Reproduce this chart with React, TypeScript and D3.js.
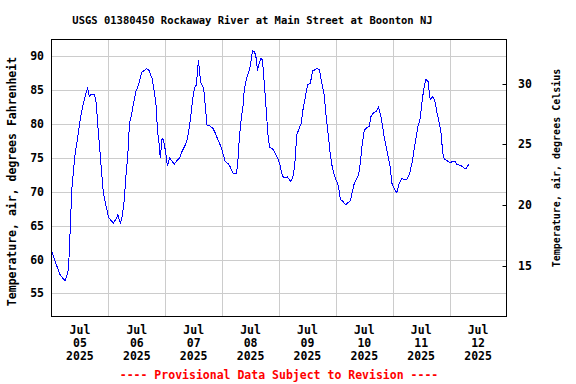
import * as d3 from 'd3';

const title = 'USGS 01380450 Rockaway River at Main Street at Boonton NJ';
const leftTitle = 'Temperature, air, degrees Fahrenheit';
const rightTitle = 'Temperature, air, degrees Celsius';
const footer = '---- Provisional Data Subject to Revision ----';

// hours after 2025-07-05 00:00 local
const hours = [
  0, 2.3, 3.7, 5.1, 5.8, 6.5, 7.2, 7.5, 7.9, 8.3, 8.7, 9.3, 10, 10.7, 11.7, 12.4, 13.5, 14.5, 15.2, 16,
  16.6, 18.1, 18.9, 19.6, 20.5, 21.3, 21.9, 23.1, 24, 25.5, 26.2, 27.2, 28, 29, 29.7, 30.7, 31.5, 32.2, 32.9, 33.6,
  34.6, 35.6, 36.4, 37.1, 38.1, 39.1, 40.2, 41.2, 42.4, 43.3, 44.2, 44.7, 45.4, 45.9, 46.6, 47, 47.7, 48.4, 48.9, 49.8,
  50.8, 51.8, 52.9, 54, 55, 56.4, 57.4, 58.2, 58.8, 59.7, 60.3, 61.1, 61.6, 62, 62.5, 63, 64.2, 64.9, 65.6, 67,
  68.1, 69.1, 70.2, 71.5, 72.3, 73.3, 74.7, 75.4, 76.5, 77.9, 78.5, 79.2, 80, 80.8, 81.4, 82.4, 83.5, 84.1, 84.8, 85.7,
  86.4, 86.9, 87.6, 88.4, 89, 89.8, 90.6, 91.3, 92, 93, 93.7, 95.1, 96.2, 97.2, 97.9, 99.6, 101, 102.1, 102.8, 103.5,
  104.5, 105.4, 106.1, 107.1, 108.1, 109.2, 110.2, 111, 112, 113, 114.1, 115.1, 115.9, 116.9, 117.6, 118.3, 119.3, 120.4, 121.1, 121.9,
  123, 124.1, 125.1, 126.1, 126.8, 127.8, 128.9, 129.6, 130.3, 131, 132, 133.1, 134.1, 134.8, 135.9, 137, 138, 138.7, 139.4, 140.4,
  141.2, 141.9, 142.9, 143.6, 144.6, 145.7, 146.8, 147.8, 148.9, 150, 151.1, 152.1, 153, 153.9, 154.6, 155.6, 156.5, 157.3, 157.9, 158.9,
  159.8, 160.8, 161.7, 162.7, 163.7, 164.4, 165.1, 165.8, 167, 168.2, 169.3, 170.3, 171, 172.7, 173.8, 174.9, 176.1,
];

const tempF = [
  61.4, 59.0, 57.7, 57.1, 56.9, 57.7, 58.7, 61.2, 64.5, 68.1, 71.0, 73.2, 75.7, 77.2, 79.6, 81.3, 83.1, 84.5, 85.3, 84.1,
  84.4, 84.4, 83.1, 79.6, 75.7, 72.2, 69.8, 67.8, 66.3, 65.6, 65.4, 66.0, 66.6, 65.4, 66.1, 68.8, 72.7, 75.4, 80.1, 81.1,
  83.1, 84.8, 85.5, 86.3, 87.7, 87.9, 88.2, 87.9, 86.8, 85.0, 82.6, 79.1, 77.2, 75.0, 77.7, 77.9, 76.9, 75.2, 73.8, 75.0,
  74.6, 74.1, 74.6, 75.0, 75.9, 76.9, 77.9, 79.6, 81.3, 84.0, 85.3, 85.8, 87.7, 89.4, 87.7, 86.1, 85.3, 82.6, 79.9, 79.7,
  79.4, 78.7, 77.7, 76.7, 75.7, 74.5, 74.1, 73.7, 72.8, 72.7, 73.7, 77.7, 80.6, 82.6, 85.3, 86.8, 88.0, 89.1, 90.8, 90.7,
  89.7, 87.9, 89.0, 89.7, 89.5, 86.0, 82.1, 78.6, 76.6, 76.4, 76.2, 75.2, 74.3, 72.7, 72.1, 72.2, 71.5, 72.5, 74.7, 78.4,
  79.4, 80.1, 82.1, 84.0, 85.8, 86.0, 87.9, 88.0, 88.2, 88.1, 86.0, 84.3, 81.1, 78.1, 75.7, 74.0, 72.5, 71.5, 70.8, 68.9,
  68.6, 68.1, 68.4, 68.7, 69.8, 71.3, 72.0, 72.5, 74.2, 76.7, 79.1, 79.5, 79.7, 81.1, 81.7, 81.9, 82.5, 81.6, 80.4, 78.1,
  76.7, 75.4, 73.7, 71.3, 70.5, 69.9, 71.3, 72.0, 71.8, 71.9, 72.7, 74.2, 76.2, 78.1, 79.6, 80.9, 83.8, 85.5, 86.6, 86.3,
  83.6, 84.0, 83.6, 81.6, 80.1, 78.6, 75.7, 74.8, 74.6, 74.3, 74.5, 74.5, 74.1, 73.9, 73.6, 73.4, 74.1,
];

const fTicks = [55, 60, 65, 70, 75, 80, 85, 90];
const cTicks = [15, 20, 25, 30];
const dayMonth = ['Jul', 'Jul', 'Jul', 'Jul', 'Jul', 'Jul', 'Jul', 'Jul'];
const dayNum = ['05', '06', '07', '08', '09', '10', '11', '12'];
const dayYear = ['2025', '2025', '2025', '2025', '2025', '2025', '2025', '2025'];

const W = 576;
const H = 384;
const left = 51.5;
const right = 506.5;
const top = 39.5;
const bottom = 316.5;

const font = '"DejaVu Sans Mono", "Liberation Mono", monospace';

export default function App() {
  const start = new Date(2025, 6, 5, 0, 0);
  const end = new Date(2025, 6, 13, 0, 0);
  const x = d3.scaleTime().domain([start, end]).range([left, right]);
  const y = d3.scaleLinear().domain([51.6, 92.5]).range([bottom, top]);
  const cToF = (c: number) => c * 9 / 5 + 32;

  const points = hours.map((h, i) => ({ t: d3.timeMinute.offset(start, Math.round(h * 60)), v: tempF[i] }));
  const line = d3.line<{ t: Date; v: number }>().x(d => x(d.t)).y(d => y(d.v));

  const days = d3.timeDay.range(start, end);
  const midnights = d3.timeDay.range(d3.timeDay.offset(start, 1), end);

  return (
    <svg width={W} height={H} style={{ position: 'absolute', left: 0, top: 0, background: '#fff' }}>
      <text x={252.5} y={20} textAnchor="middle" dominantBaseline="central" fontFamily={font} fontWeight="bold" fontSize={10.5}>
        {title}
      </text>

      {fTicks.map(t => (
        <line key={'h' + t} x1={left} x2={right} y1={Math.round(y(t)) + 0.5} y2={Math.round(y(t)) + 0.5} stroke="#cccccc" />
      ))}
      {midnights.map(d => (
        <line key={'v' + d.getTime()} x1={Math.round(x(d)) + 0.5} x2={Math.round(x(d)) + 0.5} y1={top} y2={bottom} stroke="#cccccc" />
      ))}

      <path d={line(points) || ''} fill="none" stroke="#0000ff" strokeWidth={1} shapeRendering="crispEdges" />

      <rect x={left} y={top} width={right - left} height={bottom - top} fill="none" stroke="#000" />

      {fTicks.map(t => (
        <text key={'fl' + t} x={44} y={y(t)} textAnchor="end" dominantBaseline="central" fontFamily={font} fontWeight="bold" fontSize={11.5}>
          {t}
        </text>
      ))}

      {cTicks.map(c => (
        <g key={'c' + c}>
          <line x1={right - 4} x2={right} y1={Math.round(y(cToF(c))) + 0.5} y2={Math.round(y(cToF(c))) + 0.5} stroke="#000" />
          <text x={518} y={y(cToF(c))} dominantBaseline="central" fontFamily={font} fontWeight="bold" fontSize={11.5}>
            {c}
          </text>
        </g>
      ))}

      {days.map((d, i) => {
        const cx = x(d3.timeHour.offset(d, 12));
        return (
          <g key={'d' + i} fontFamily={font} fontWeight="bold" fontSize={11.5} textAnchor="middle">
            <text x={cx} y={330} dominantBaseline="central">{dayMonth[i]}</text>
            <text x={cx} y={343} dominantBaseline="central">{dayNum[i]}</text>
            <text x={cx} y={356} dominantBaseline="central">{dayYear[i]}</text>
          </g>
        );
      })}

      <text
        transform="translate(12,181.5) rotate(-90)"
        textAnchor="middle"
        dominantBaseline="central"
        fontFamily={font}
        fontWeight="bold"
        fontSize={11.5}
      >
        {leftTitle}
      </text>
      <text
        transform="translate(556,168) rotate(-90)"
        textAnchor="middle"
        dominantBaseline="central"
        fontFamily={font}
        fontWeight="bold"
        fontSize={10}
      >
        {rightTitle}
      </text>

      <text x={(left + right) / 2} y={375} textAnchor="middle" dominantBaseline="central" fontFamily={font} fontWeight="bold" fontSize={11.5} fill="#ff0000">
        {footer}
      </text>
    </svg>
  );
}
